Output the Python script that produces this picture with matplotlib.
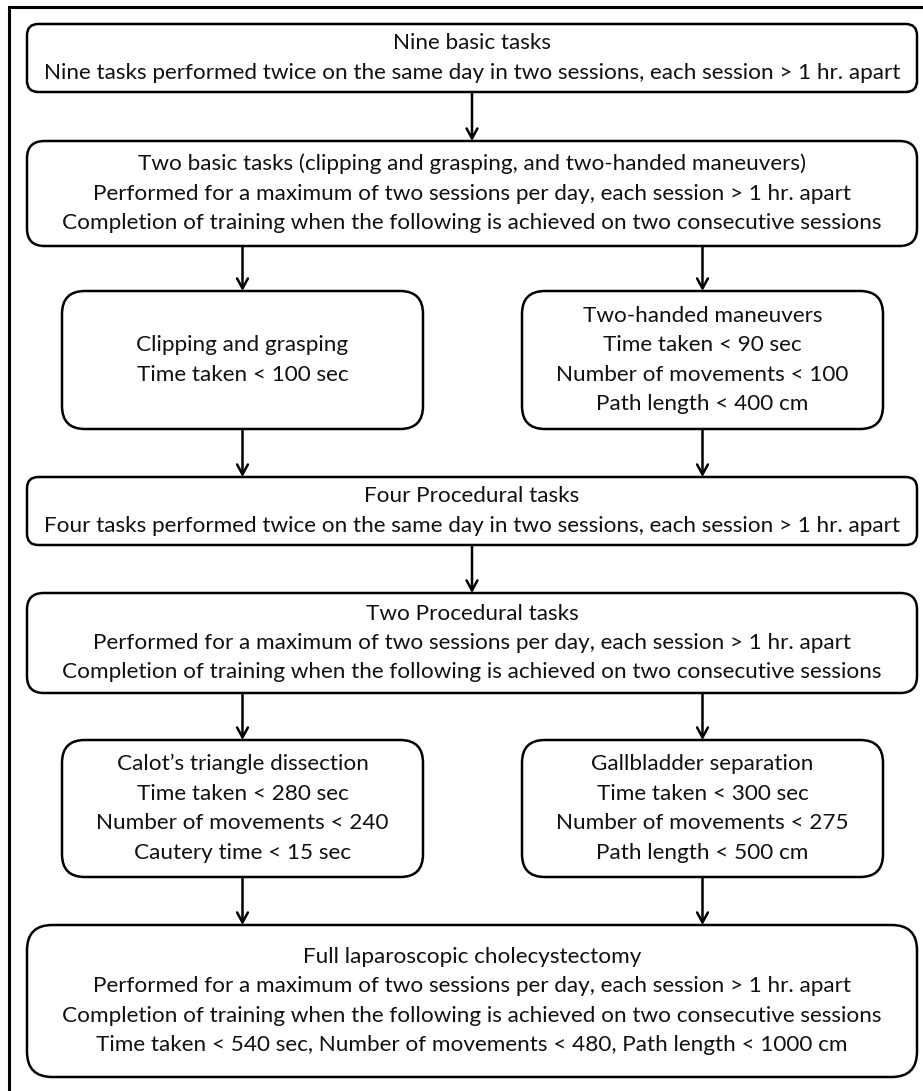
import matplotlib.pyplot as plt
from matplotlib.patches import FancyBboxPatch, FancyArrowPatch

# box texts, top to bottom
nine_basic = ["Nine basic tasks",
              "Nine tasks performed twice on the same day in two sessions, each session > 1 hr. apart"]
two_basic = ["Two basic tasks (clipping and grasping, and two-handed maneuvers)",
             "Performed for a maximum of two sessions per day, each session > 1 hr. apart",
             "Completion of training when the following is achieved on two consecutive sessions"]
clipping = ["Clipping and grasping", "Time taken < 100 sec"]
two_handed = ["Two-handed maneuvers", "Time taken < 90 sec",
              "Number of movements < 100", "Path length < 400 cm"]
four_proc = ["Four Procedural tasks",
             "Four tasks performed twice on the same day in two sessions, each session > 1 hr. apart"]
two_proc = ["Two Procedural tasks",
            "Performed for a maximum of two sessions per day, each session > 1 hr. apart",
            "Completion of training when the following is achieved on two consecutive sessions"]
calot = ["Calot\u2019s triangle dissection", "Time taken < 280 sec",
         "Number of movements < 240", "Cautery time < 15 sec"]
gallbladder = ["Gallbladder separation", "Time taken < 300 sec",
               "Number of movements < 275", "Path length < 500 cm"]
full_lc = ["Full laparoscopic cholecystectomy",
           "Performed for a maximum of two sessions per day, each session > 1 hr. apart",
           "Completion of training when the following is achieved on two consecutive sessions",
           "Time taken < 540 sec, Number of movements < 480, Path length < 1000 cm"]

W, H = 923, 1091
fig = plt.figure(figsize=(W / 100, H / 100), dpi=100)
ax = fig.add_axes([0, 0, 1, 1])
ax.set_xlim(0, W)
ax.set_ylim(H, 0)
ax.axis("off")

FONT = "Lato"
LW = 1.8
LINE_GAP = 29.5


def box(x0, y0, x1, y1, lines):
    h = y1 - y0
    p = FancyBboxPatch((x0, y0), x1 - x0, h,
                       boxstyle=f"round,pad=0,rounding_size={h / 6:.1f}",
                       fc="white", ec="black", lw=LW)
    ax.add_patch(p)
    cy = (y0 + y1) / 2
    n = len(lines)
    for i, t in enumerate(lines):
        y = cy + (i - (n - 1) / 2) * LINE_GAP
        ax.text((x0 + x1) / 2, y, t, ha="center", va="center",
                fontsize=16.2, family=FONT, color="#111111")


def arrow(x, y0, y1):
    a = FancyArrowPatch((x, y0), (x, y1), arrowstyle="->,head_length=0.55,head_width=0.3",
                        mutation_scale=13, lw=LW, color="black",
                        shrinkA=0, shrinkB=0)
    ax.add_patch(a)


# outer frame (right and bottom edges fall outside the picture)
ax.plot([9, 9, W + 5], [H + 5, 7, 7], color="black", lw=2.2, solid_joinstyle="miter")

L, R = 27, 917
CX = (L + R) / 2
LX0, LX1 = 62, 423
RX0, RX1 = 522, 883
LCX, RCX = (LX0 + LX1) / 2, (RX0 + RX1) / 2

box(L, 24, R, 92, nine_basic)
arrow(CX, 92, 141)
box(L, 141, R, 246, two_basic)
arrow(LCX, 246, 291)
arrow(RCX, 246, 291)
box(LX0, 291, LX1, 429, clipping)
box(RX0, 291, RX1, 429, two_handed)
arrow(LCX, 429, 477)
arrow(RCX, 429, 477)
box(L, 477, R, 545, four_proc)
arrow(CX, 545, 593)
box(L, 593, R, 693, two_proc)
arrow(LCX, 693, 740)
arrow(RCX, 693, 740)
box(LX0, 740, LX1, 877, calot)
box(RX0, 740, RX1, 877, gallbladder)
arrow(LCX, 877, 925)
arrow(RCX, 877, 925)
box(L, 925, R, 1077, full_lc)

fig.savefig("out.png", dpi=100, facecolor="white")
